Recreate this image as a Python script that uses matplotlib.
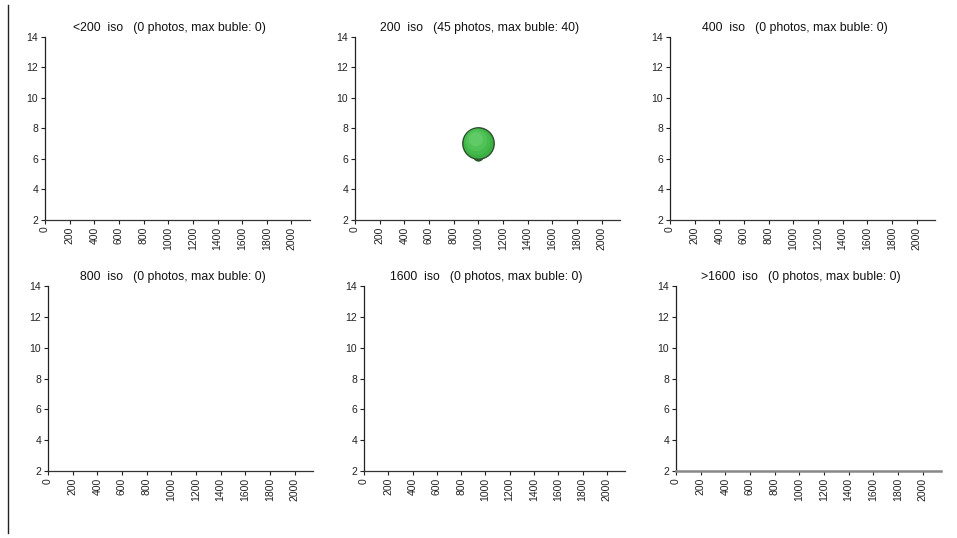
import numpy as np
import matplotlib.pyplot as plt
from matplotlib.lines import Line2D

# panel data
iso_labels = ["<200", "200", "400", "800", "1600", ">1600"]
photo_counts = [0, 45, 0, 0, 0, 0]
max_bubble = [0, 40, 0, 0, 0, 0]
bubble_x = [[], [1000], [], [], [], []]
bubble_y = [[], [7.0], [], [], [], []]
bubble_size = [[], [40], [], [], [], []]

x_ticks = list(range(0, 2001, 200))
y_ticks = [2, 4, 6, 8, 10, 12, 14]

plt.rcParams['font.family'] = ['Liberation Sans', 'DejaVu Sans']

# axes boxes [left, bottom, width, height] in figure fractions
boxes = [
    [0.0470, 0.5920, 0.2769, 0.3392],
    [0.3710, 0.5920, 0.2769, 0.3392],
    [0.7001, 0.5920, 0.2769, 0.3392],
    [0.0502, 0.1245, 0.2769, 0.3439],
    [0.3804, 0.1245, 0.2727, 0.3439],
    [0.7064, 0.1245, 0.2769, 0.3439],
]


def draw_bubbles(ax, xs, ys, sizes):
    for x, y, s in zip(xs, ys, sizes):
        area = s * 12.8
        # little shadow under the bubble
        ax.scatter([x], [y - 0.85], s=area * 0.08, color="#2e7d32",
                   edgecolor="#1f4f1f", zorder=3)
        ax.scatter([x], [y], s=area, color="#3cb043", edgecolor="#2f4f2f",
                   linewidth=1.0, zorder=4)
        # soft highlight towards the upper left
        for k, c in zip([0.7, 0.45, 0.2], ["#45ba4c", "#51c258", "#5fca66"]):
            ax.scatter([x - 25 * (1 - k)], [y + 0.35 * (1 - k)], s=area * k,
                       color=c, edgecolor="none", zorder=5)


fig = plt.figure(figsize=(9.57, 5.38), dpi=100)

for i, box in enumerate(boxes):
    ax = fig.add_axes(box)
    draw_bubbles(ax, bubble_x[i], bubble_y[i], bubble_size[i])
    ax.set_xlim(0, 2150)
    ax.set_ylim(2, 14)
    ax.set_xticks(x_ticks)
    ax.set_yticks(y_ticks)
    ax.set_xticklabels([str(t) for t in x_ticks], rotation=90)
    ax.tick_params(axis="both", labelsize=7.5, colors="#222222", length=3,
                   width=0.8, pad=2)
    for side in ["top", "right"]:
        ax.spines[side].set_visible(False)
    ax.spines["left"].set_color("#222222")
    ax.spines["bottom"].set_color("#333333")
    ax.spines["left"].set_linewidth(0.9)
    ax.spines["bottom"].set_linewidth(0.9)
    if i == 5:
        ax.spines["bottom"].set_color("#888888")
        ax.spines["bottom"].set_linewidth(1.8)
    title = "%s  iso   (%d photos, max buble: %d)" % (iso_labels[i], photo_counts[i], max_bubble[i])
    ax.text(0.47, 1.015, title, transform=ax.transAxes, ha="center",
            va="bottom", fontsize=8.8, color="#111111")

# thin line down the left edge
fig.add_artist(Line2D([0.0085, 0.0085], [0.01, 0.99], color="#222222",
                      linewidth=1.0))

fig.savefig("out.png", dpi=100)
